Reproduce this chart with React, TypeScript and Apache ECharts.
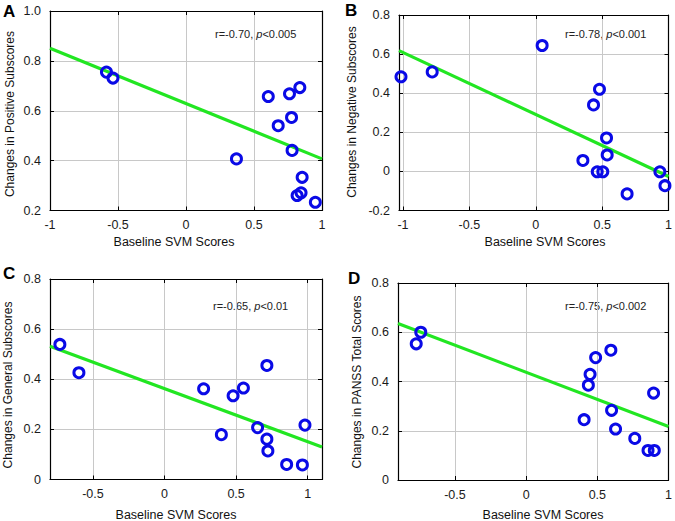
import React, { useEffect, useRef } from "react";
import * as echarts from "echarts";

// Panel A: Positive subscores
const aX = [-0.585, -0.537, 0.371, 0.605, 0.678, 0.761, 0.776, 0.837, 0.78, 0.854, 0.817, 0.846, 0.951];
const aY = [0.755, 0.731, 0.407, 0.657, 0.54, 0.668, 0.573, 0.693, 0.441, 0.333, 0.26, 0.271, 0.233];
const aFitX = [-1, 1];
const aFitY = [0.851, 0.407];

// Panel B: Negative subscores
const bX = [-1.015, -0.78, 0.048, 0.48, 0.435, 0.533, 0.538, 0.355, 0.463, 0.505, 0.688, 0.935, 0.973];
const bY = [0.484, 0.509, 0.644, 0.42, 0.34, 0.171, 0.084, 0.056, -0.002, -0.002, -0.115, -0.002, -0.073];
const bFitX = [-1.03, 1];
const bFitY = [0.618, -0.026];

// Panel C: General subscores
const cX = [-0.731, -0.598, 0.273, 0.397, 0.479, 0.551, 0.65, 0.715, 0.715, 0.722, 0.853, 0.963, 0.981];
const cY = [0.539, 0.426, 0.362, 0.179, 0.334, 0.365, 0.207, 0.455, 0.161, 0.114, 0.06, 0.058, 0.217];
const cFitX = [-0.8, 1.1];
const cFitY = [0.532, 0.13];

// Panel D: PANSS total
const dX = [-0.772, -0.74, 0.407, 0.437, 0.449, 0.488, 0.595, 0.6, 0.628, 0.763, 0.856, 0.9, 0.895];
const dY = [0.553, 0.6, 0.245, 0.385, 0.429, 0.497, 0.527, 0.283, 0.207, 0.169, 0.12, 0.12, 0.353];
const dFitX = [-0.9, 1];
const dFitY = [0.636, 0.217];

const panelLetters = ["A", "B", "C", "D"];
const yTitles = [
  "Changes in Positive Subscores",
  "Changes in Negative Subscores",
  "Changes in General Subscores",
  "Changes in PANSS Total Scores",
];
const xTitle = "Baseline SVM Scores";
const stats = [
  ["r=-0.70, ", "<0.005"],
  ["r=-0.78, ", "<0.001"],
  ["r=-0.65, ", "<0.01"],
  ["r=-0.75, ", "<0.002"],
];

const xRanges = [[-1, 1], [-1.03, 1], [-0.8, 1.1], [-0.9, 1]];
const yRanges = [[0.2, 1.0], [-0.2, 0.8], [0, 0.8], [0, 0.8]];
const xTickValues = [
  [-1, -0.5, 0, 0.5, 1],
  [-1, -0.5, 0, 0.5, 1],
  [-0.5, 0, 0.5, 1],
  [-0.5, 0, 0.5, 1],
];
const yTickValues = [
  [0.2, 0.4, 0.6, 0.8, 1.0],
  [-0.2, 0, 0.2, 0.4, 0.6, 0.8],
  [0, 0.2, 0.4, 0.6, 0.8],
  [0, 0.2, 0.4, 0.6, 0.8],
];

const FONT = "Liberation Sans, Arial, sans-serif";

export default function App() {
  const ref = useRef<HTMLDivElement>(null);
  useEffect(() => {
    document.body.style.margin = "0";
    const chart = echarts.init(ref.current!, null, { renderer: "svg" });

    const grids = [
      { left: 50, top: 11, width: 272, height: 199.5 },
      { left: 399, top: 15, width: 271, height: 195.5 },
      { left: 50, top: 279, width: 272, height: 200.5 },
      { left: 398, top: 283, width: 272, height: 197 },
    ];

    const fmtX = (v: number) => {
      if (Math.abs(v) < 1e-9) return "0";
      return String(Math.round(v * 10) / 10);
    };
    const fmtY = (i: number) => (v: number) => {
      if (Math.abs(v) < 1e-9 && i !== 0) return "0";
      return v.toFixed(1);
    };

    const xAxes: any[] = [];
    const yAxes: any[] = [];
    const series: any[] = [];
    const pts = [
      [aX, aY, aFitX, aFitY],
      [bX, bY, bFitX, bFitY],
      [cX, cY, cFitX, cFitY],
      [dX, dY, dFitX, dFitY],
    ];

    for (let i = 0; i < 4; i++) {
      const axisLine = { show: true, onZero: false, lineStyle: { color: "#000", width: 1.2 } };
      const xt = { show: true, inside: true, length: 4, lineStyle: { color: "#000" }, customValues: xTickValues[i] };
      const yt = { show: true, inside: true, length: 4, lineStyle: { color: "#000" }, customValues: yTickValues[i] };
      const grid = { show: true, lineStyle: { color: "#c8c8c8", width: 1 } };
      xAxes.push({
        type: "value", gridIndex: i, position: "bottom",
        min: xRanges[i][0], max: xRanges[i][1],
        axisLine, axisTick: xt,
        axisLabel: { formatter: fmtX, fontFamily: FONT, fontSize: 12.5, color: "#1a1a1a", margin: 8, customValues: xTickValues[i] },
        splitLine: grid,
      });
      xAxes.push({
        type: "value", gridIndex: i, position: "top",
        min: xRanges[i][0], max: xRanges[i][1],
        axisLine, axisTick: xt, axisLabel: { show: false }, splitLine: { show: false },
      });
      yAxes.push({
        type: "value", gridIndex: i, position: "left",
        min: yRanges[i][0], max: yRanges[i][1],
        axisLine, axisTick: yt,
        axisLabel: { formatter: fmtY(i), fontFamily: FONT, fontSize: 12.5, color: "#1a1a1a", margin: 9, customValues: yTickValues[i] },
        splitLine: grid,
      });
      yAxes.push({
        type: "value", gridIndex: i, position: "right",
        min: yRanges[i][0], max: yRanges[i][1],
        axisLine, axisTick: yt, axisLabel: { show: false }, splitLine: { show: false },
      });
      const [xs, ys, fx, fy] = pts[i] as number[][];
      series.push({
        type: "line", xAxisIndex: i * 2, yAxisIndex: i * 2,
        data: fx.map((x, k) => [x, fy[k]]),
        symbol: "none", lineStyle: { color: "#22e622", width: 3.2 }, z: 2,
      });
      series.push({
        type: "scatter", xAxisIndex: i * 2, yAxisIndex: i * 2,
        data: xs.map((x, k) => [x, ys[k]]),
        symbol: "circle", symbolSize: 10, clip: false,
        itemStyle: { color: "rgba(0,0,0,0)", borderColor: "#0a0ae6", borderWidth: 3, opacity: 1 },
        z: 3,
      });
    }

    const letterPos = [[3, 3], [345, 2], [3, 265], [348, 270]];
    const statPos = [[215, 34], [565, 34], [213, 306], [565, 306]];
    const xTitlePos = [[174, 242], [545, 242], [176, 515], [543, 515]];
    const yTitlePos = [[10, 114], [352, 112], [8, 385], [357, 382]];

    const graphic: any[] = [];
    for (let i = 0; i < 4; i++) {
      graphic.push({
        type: "text", left: letterPos[i][0], top: letterPos[i][1],
        style: { text: panelLetters[i], font: `bold 17px ${FONT}`, fill: "#000" },
      });
      graphic.push({
        type: "text", x: statPos[i][0], y: statPos[i][1],
        style: {
          text: `{n|${stats[i][0]}}{i|p}{n|${stats[i][1]}}`,
          verticalAlign: "middle",
          rich: {
            n: { fontFamily: FONT, fontSize: 11, fill: "#222" },
            i: { fontFamily: FONT, fontSize: 11, fontStyle: "italic", fill: "#222" },
          },
        },
      });
      graphic.push({
        type: "text", x: xTitlePos[i][0], y: xTitlePos[i][1],
        style: { text: xTitle, font: `12.5px ${FONT}`, fill: "#111", align: "center", verticalAlign: "middle" },
      });
      graphic.push({
        type: "text", x: yTitlePos[i][0], y: yTitlePos[i][1], rotation: Math.PI / 2,
        style: { text: yTitles[i], font: `12px ${FONT}`, fill: "#111", align: "center", verticalAlign: "middle" },
      });
    }

    chart.setOption({
      animation: false,
      backgroundColor: "#fff",
      grid: grids,
      xAxis: xAxes,
      yAxis: yAxes,
      series,
      graphic,
    });
    return () => chart.dispose();
  }, []);
  return <div ref={ref} style={{ width: 675, height: 521 }} />;
}
